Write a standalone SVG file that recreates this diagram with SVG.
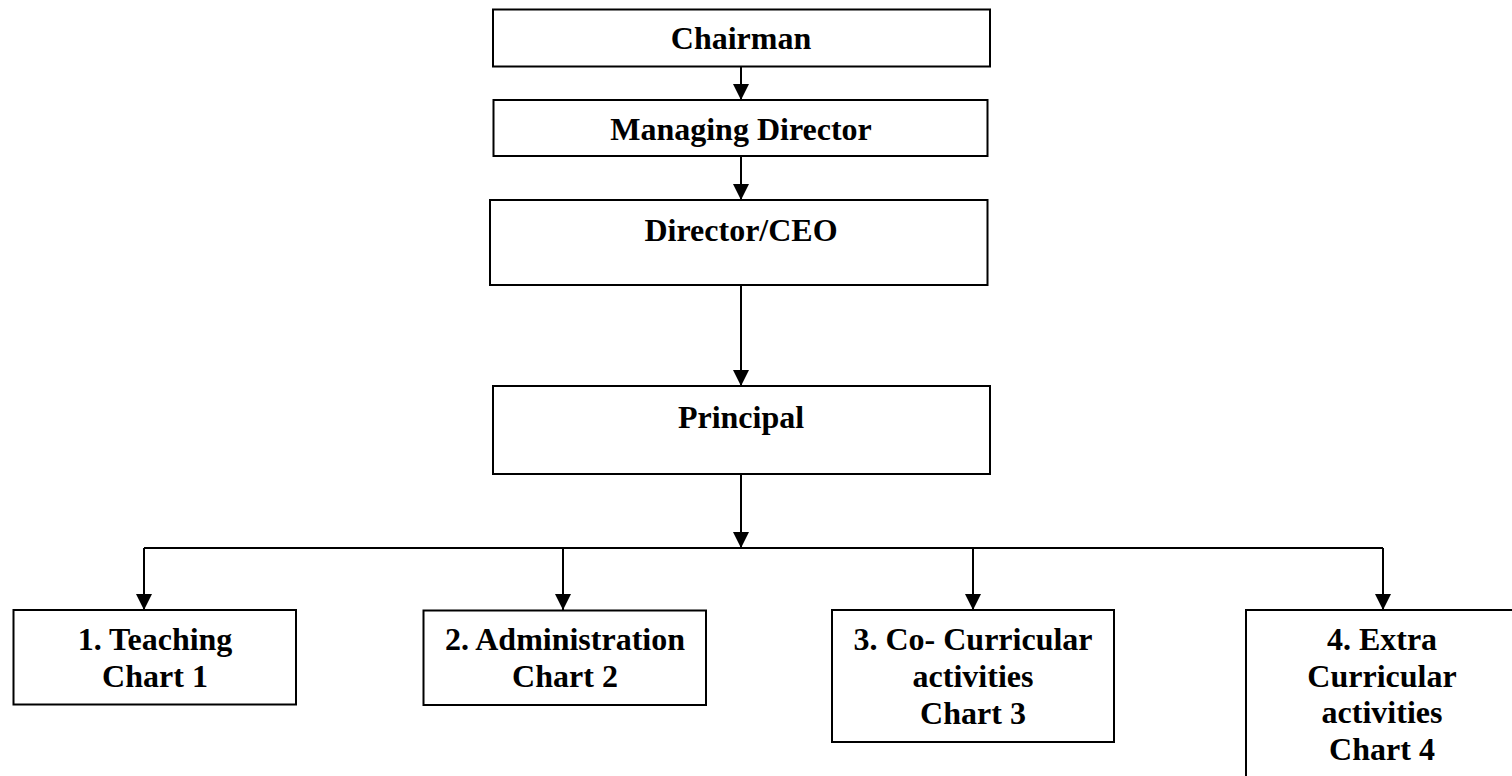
<svg xmlns="http://www.w3.org/2000/svg" width="1512" height="776" viewBox="0 0 1512 776">
<style>
.box{fill:#fff;stroke:#000;stroke-width:2}
.lbl{font-family:"Liberation Serif","Times New Roman",serif;font-weight:bold;font-size:32px;fill:#000;text-anchor:middle}
.con{fill:none;stroke:#000;stroke-width:2}
</style>
<defs>
<marker id="arr" markerUnits="userSpaceOnUse" markerWidth="16" markerHeight="16" viewBox="0 0 14 14" refX="14" refY="7" orient="auto">
<path d="M0,0 L14,7 L0,14 Z" fill="#000"/>
</marker>
</defs>
<rect width="1512" height="776" fill="#fff"/>
<g id="connectors">
<line class="con" x1="741" y1="67" x2="741" y2="100" marker-end="url(#arr)"/>
<line class="con" x1="741" y1="156" x2="741" y2="200" marker-end="url(#arr)"/>
<line class="con" x1="741" y1="285" x2="741" y2="386" marker-end="url(#arr)"/>
<line class="con" x1="741" y1="474" x2="741" y2="548" marker-end="url(#arr)"/>
<line class="con" x1="144" y1="548" x2="1383" y2="548"/>
<line class="con" x1="144" y1="548" x2="144" y2="610" marker-end="url(#arr)"/>
<line class="con" x1="563" y1="548" x2="563" y2="610" marker-end="url(#arr)"/>
<line class="con" x1="973" y1="548" x2="973" y2="610" marker-end="url(#arr)"/>
<line class="con" x1="1383" y1="548" x2="1383" y2="610" marker-end="url(#arr)"/>
</g>
<g id="chairman">
<rect class="box" x="493" y="9.5" width="497" height="57"/>
<text class="lbl" x="741" y="49">Chairman</text>
</g>
<g id="managing-director">
<rect class="box" x="493.5" y="100" width="494" height="56"/>
<text class="lbl" x="741" y="140">Managing Director</text>
</g>
<g id="director-ceo">
<rect class="box" x="490" y="200" width="497.5" height="85"/>
<text class="lbl" x="741" y="241">Director/CEO</text>
</g>
<g id="principal">
<rect class="box" x="493" y="386" width="497" height="88"/>
<text class="lbl" x="741" y="428">Principal</text>
</g>
<g id="teaching">
<rect class="box" x="13.5" y="610" width="282.5" height="94.5"/>
<text class="lbl" x="155" y="650">1. Teaching</text>
<text class="lbl" x="155" y="687">Chart 1</text>
</g>
<g id="administration">
<rect class="box" x="423.5" y="610.5" width="282.5" height="94.5"/>
<text class="lbl" x="565" y="650">2. Administration</text>
<text class="lbl" x="565" y="687">Chart 2</text>
</g>
<g id="co-curricular">
<rect class="box" x="832" y="610" width="282" height="132"/>
<text class="lbl" x="973" y="650">3. Co- Curricular</text>
<text class="lbl" x="973" y="687">activities</text>
<text class="lbl" x="973" y="724">Chart 3</text>
</g>
<g id="extra-curricular">
<rect class="box" x="1246" y="610" width="280" height="180"/>
<text class="lbl" x="1382" y="650">4. Extra</text>
<text class="lbl" x="1382" y="687">Curricular</text>
<text class="lbl" x="1382" y="723">activities</text>
<text class="lbl" x="1382" y="760">Chart 4</text>
</g>
</svg>
